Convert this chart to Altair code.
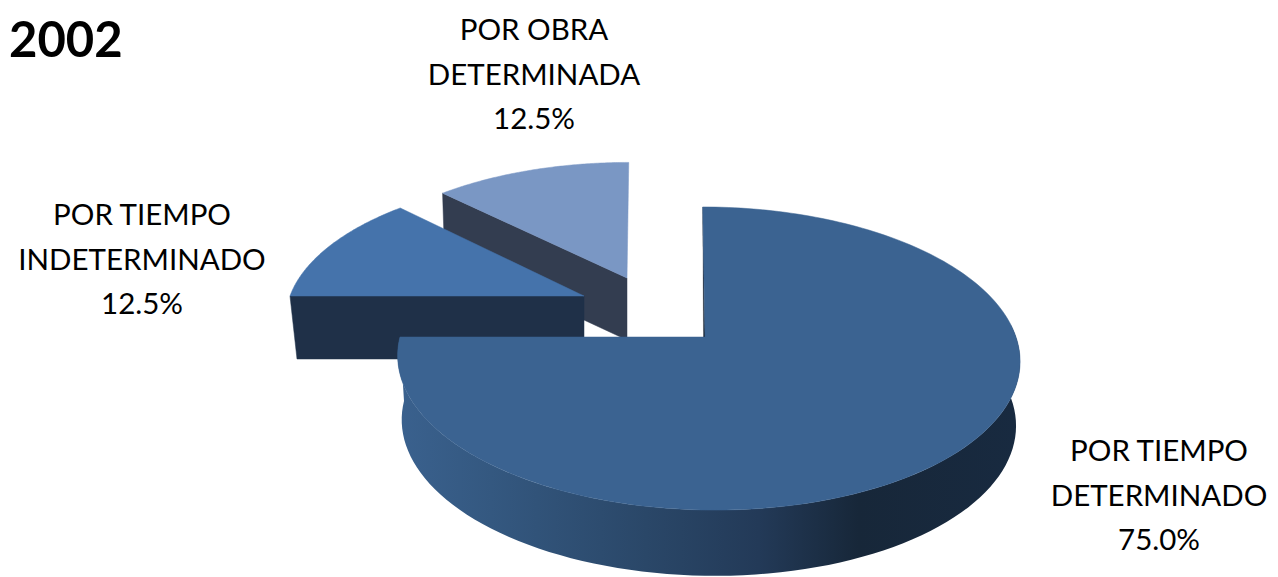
import math
import altair as alt
import pandas as pd

# --- values ---
categories = ["POR TIEMPO DETERMINADO", "POR TIEMPO INDETERMINADO", "POR OBRA DETERMINADA"]
shares = [75.0, 12.5, 12.5]
label_lines = [["POR TIEMPO", "DETERMINADO"], ["POR TIEMPO", "INDETERMINADO"], ["POR OBRA", "DETERMINADA"]]
title_text = "2002"

# --- layout / style ---
START = 0.0
K = 0.142
GEOM = {
    0: dict(ax=708, ay=337, rx=308, ry=148.5, depth=64, inset=4, ryb=150, skew=-6, apex=(705, 337)),
    1: dict(ax=584, ay=296, rx=294, ry=137, depth=63, inset=7, ryb=137, skew=8, apex=(584, 296)),
    2: dict(ax=627, ay=278, rx=289, ry=132, depth=62, inset=0, ryb=132, skew=2, apex=(627, 278)),
}
TOP = ["#3b6391", "#4573ab", "#7a97c4"]
WALL = [None, "#1f3048", "#333d50"]
LABEL_POS = [(1159, 452), (142, 216), (534, 31)]

XS = alt.Scale(domain=[8, 1270], zero=False, nice=False)
YS = alt.Scale(domain=[577, 8], zero=False, nice=False)


def slice_angles():
    out, a = [], START
    for s in shares:
        span = s * 3.6
        out.append((a, a + span))
        a += span
    return out


def rim(g, deg, bottom=False):
    t = math.radians(deg)
    X, Y = math.sin(t), math.cos(t)
    w = 1 + K * Y
    rx = g["rx"] - (g["inset"] if bottom else 0)
    ry = g["ryb"] if bottom else g["ry"]
    off = g["depth"] if bottom else 0
    return g["ax"] + (rx * X + g["skew"] * Y) / w, g["ay"] + off - ry * Y / w


def arc_pts(g, a0, a1, bottom=False, n=90):
    return [rim(g, a0 + (a1 - a0) * i / n, bottom) for i in range(n + 1)]


def polygon(points, fill, stroke=None, sw=0.5):
    pts = list(points) + [points[0]]
    df = pd.DataFrame({"x": [p[0] for p in pts], "y": [p[1] for p in pts], "i": range(len(pts))})
    return (
        alt.Chart(df)
        .mark_line(fill=fill, stroke=stroke if stroke else "transparent", strokeWidth=sw, interpolate="linear")
        .encode(
            x=alt.X("x:Q", scale=XS, axis=None),
            y=alt.Y("y:Q", scale=YS, axis=None),
            order="i:Q",
        )
    )


ang = slice_angles()
layers = []

# slice 3 (light)
g = GEOM[2]
a0, a1 = ang[2]
p_rim = rim(g, a0)
apex = g["apex"]
layers.append(polygon([p_rim, apex, (apex[0], apex[1] + g["depth"]), (p_rim[0] + 2, p_rim[1] + g["depth"])], WALL[2], WALL[2]))
layers.append(polygon([apex] + arc_pts(g, a0, a1), TOP[2], TOP[2]))

# slice 2 (mid blue)
g = GEOM[1]
a0, a1 = ang[1]
p_rim = rim(g, a0)
apex = g["apex"]
layers.append(polygon([p_rim, apex, (apex[0], apex[1] + g["depth"]), (p_rim[0] + g["inset"], p_rim[1] + g["depth"])], WALL[1], WALL[1]))
layers.append(polygon([apex] + arc_pts(g, a0, a1), TOP[1], TOP[1]))

# main slice: outer wall with a horizontal gradient, inner edge, top face
g = GEOM[0]
a0, a1 = ang[0]
wall_gradient = alt.Gradient(
    gradient="linear",
    x1=0, y1=0, x2=1, y2=0,
    stops=[
        alt.GradientStop(offset=0.0, color="#3a618e"),
        alt.GradientStop(offset=0.15, color="#345880"),
        alt.GradientStop(offset=0.40, color="#2a4768"),
        alt.GradientStop(offset=0.58, color="#233a58"),
        alt.GradientStop(offset=0.74, color="#172739"),
        alt.GradientStop(offset=1.0, color="#182a40"),
    ],
)
front = arc_pts(g, 85, a1)
back = arc_pts(g, 85, a1, bottom=True)
layers.append(polygon(front + back[::-1], wall_gradient))
apex = g["apex"]
top_pt = rim(g, a0)
layers.append(polygon([top_pt, apex, (apex[0] - 1.5, apex[1])], "#14202f", "#14202f", 0.3))
layers.append(polygon([apex] + arc_pts(g, a0, a1, n=200), TOP[0], TOP[0]))

# labels
rows = []
for c, s, lines, (x, y) in zip(categories, shares, label_lines, LABEL_POS):
    rows.append({"x": x, "y": y, "text": "\n".join(lines + [f"{s:.1f}%"])})
labels = (
    alt.Chart(pd.DataFrame(rows))
    .mark_text(font="Lato", fontSize=29.5, color="#000000", align="center", baseline="middle",
               lineBreak="\n", lineHeight=44.5, clip=False)
    .encode(x=alt.X("x:Q", scale=XS, axis=None), y=alt.Y("y:Q", scale=YS, axis=None), text="text:N")
)
layers.append(labels)

title = (
    alt.Chart(pd.DataFrame({"x": [9], "y": [42], "text": [title_text]}))
    .mark_text(font="Lato", fontSize=49, fontWeight="bold", color="#000000", align="left", baseline="middle")
    .encode(x=alt.X("x:Q", scale=XS, axis=None), y=alt.Y("y:Q", scale=YS, axis=None), text="text:N")
)
layers.append(title)

chart = (
    alt.layer(*layers)
    .resolve_scale(x="shared", y="shared")
    .properties(width=1262, height=569, padding=0, autosize=alt.AutoSizeParams(type="none"), background="#ffffff")
    .configure_view(stroke=None)
)
chart.save("out.html", embed_options={"renderer": "svg", "actions": False})
